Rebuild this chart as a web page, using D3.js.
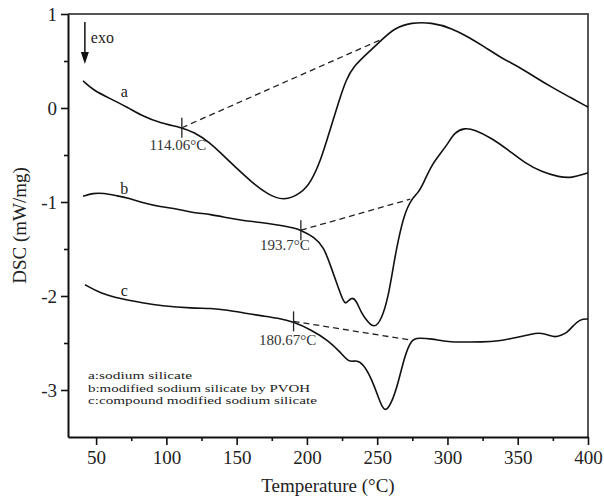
<!DOCTYPE html>
<html>
<head>
<meta charset="utf-8">
<script src="https://d3js.org/d3.v7.min.js"></script>
<style>
  body { margin: 0; background: #fff; }
  svg { font-family: "Liberation Serif", "Times New Roman", serif; }
</style>
</head>
<body>
<div id="chart"></div>
<script>
// DSC curves: [temperature (°C), DSC (mW/mg)]
const curveA = [
  [40.7, 0.29], [47.9, 0.19], [60, 0.10], [72.1, 0.01], [83.6, -0.09], [95.7, -0.16],
  [111.4, -0.21], [119.3, -0.255], [131.4, -0.37], [140, -0.50], [150, -0.64],
  [160, -0.78], [172, -0.92], [183.6, -0.99], [195.7, -0.91], [202.9, -0.79],
  [210, -0.55], [215.7, -0.27], [222.9, 0.08], [227.9, 0.30], [232.9, 0.44],
  [243.6, 0.59], [252.9, 0.72], [262.1, 0.85], [274.3, 0.91], [288.6, 0.91],
  [302.9, 0.85], [315, 0.755], [326.4, 0.65], [338.6, 0.53], [350.7, 0.44],
  [362.1, 0.33], [374.3, 0.22], [386.4, 0.12], [400, 0.01]
];
const curveB = [
  [40.7, -0.94], [47.9, -0.905], [55, -0.905], [65, -0.935], [72.1, -0.955],
  [83.6, -1.01], [95.7, -1.05], [107.9, -1.075], [119.3, -1.115], [131.4, -1.13],
  [143.6, -1.17], [155, -1.20], [167.1, -1.215], [179.3, -1.245], [190.7, -1.275],
  [195.7, -1.30], [205, -1.37], [212.1, -1.48], [217.1, -1.69], [222.1, -1.90],
  [225.7, -2.05], [227.9, -2.09], [231.4, -2.01], [235, -2.04], [238.6, -2.18],
  [243.6, -2.28], [247.9, -2.34], [252.9, -2.26], [257.9, -2.01], [261.4, -1.69],
  [265, -1.40], [269.3, -1.13], [274.3, -0.97], [279.3, -0.90], [282.9, -0.80],
  [288.6, -0.61], [295.7, -0.47], [300.7, -0.37], [305, -0.26], [312.1, -0.21],
  [319.3, -0.23], [331.4, -0.32], [343.6, -0.45], [355, -0.585], [367.1, -0.68],
  [379.3, -0.735], [388.6, -0.745], [397.9, -0.70], [400, -0.69]
];
const curveC = [
  [42.1, -1.88], [52.9, -1.97], [67.1, -2.03], [83.6, -2.075], [95.7, -2.105],
  [119.3, -2.13], [131.4, -2.13], [143.6, -2.15], [155, -2.18], [167.1, -2.21],
  [179.3, -2.235], [190.7, -2.275], [202.9, -2.36], [215, -2.47], [224.3, -2.605],
  [230, -2.71], [235, -2.68], [240, -2.72], [245.7, -2.87], [250.7, -3.07],
  [255, -3.25], [260, -3.15], [265, -2.925], [269.3, -2.65], [274.3, -2.46],
  [279.3, -2.445], [288.6, -2.455], [300.7, -2.49], [312.1, -2.49], [324.3, -2.49],
  [336.4, -2.48], [347.9, -2.445], [360, -2.405], [365, -2.39], [372.1, -2.415],
  [376.4, -2.44], [381.4, -2.415], [385, -2.39], [388.6, -2.33], [394.3, -2.245],
  [400, -2.245]
];

// onset annotations: tick point, end of dashed tangent, label
const onsetLabels = ['114.06°C', '193.7°C', '180.67°C'];
const onsetPoints = [[111, -0.21], [195.7, -1.30], [190.5, -2.27]];
const tangentEnds = [[251.5, 0.72], [273.5, -0.97], [274.3, -2.47]];

const curveNames = ['a', 'b', 'c'];
const curveNameAt = [[70, 0.12], [70, -0.92], [70, -2.0]];
const legendLines = ['a:sodium silicate', 'b:modified sodium silicate by PVOH', 'c:compound modified sodium silicate'];

const xTicks = [50, 100, 150, 200, 250, 300, 350, 400];
const yTicks = [-3, -2, -1, 0, 1];

const W = 604, H = 500;
const margin = { top: 14, right: 16, bottom: 63, left: 68 };

const svg = d3.select('#chart').append('svg').attr('width', W).attr('height', H);

const x = d3.scaleLinear().domain([30, 400]).range([margin.left, W - margin.right]);
const y = d3.scaleLinear().domain([-3.5, 1]).range([H - margin.bottom, margin.top]);

// frame (top and right)
svg.append('path')
  .attr('d', `M${x(30)},${y(1)}H${x(400)}V${y(-3.5)}`)
  .attr('fill', 'none').attr('stroke', '#555').attr('stroke-width', 2);

// minor ticks
const xMinor = d3.range(75, 400, 50);
const yMinor = [-2.5, -1.5, -0.5, 0.5];
svg.append('g')
  .attr('transform', `translate(0,${y(-3.5)})`)
  .call(d3.axisBottom(x).tickValues(xMinor).tickSize(4).tickFormat(''))
  .call((g) => g.select('.domain').remove())
  .selectAll('line').attr('stroke-width', 1.6).attr('stroke', '#111');
svg.append('g')
  .attr('transform', `translate(${margin.left},0)`)
  .call(d3.axisLeft(y).tickValues(yMinor).tickSize(4).tickFormat(''))
  .call((g) => g.select('.domain').remove())
  .selectAll('line').attr('stroke-width', 1.6).attr('stroke', '#111');

// main axes
const xAxis = svg.append('g')
  .attr('transform', `translate(0,${y(-3.5)})`)
  .call(d3.axisBottom(x).tickValues(xTicks).tickSize(8).tickSizeOuter(0).tickPadding(6));
const yAxis = svg.append('g')
  .attr('transform', `translate(${margin.left},0)`)
  .call(d3.axisLeft(y).tickValues(yTicks).tickSize(7).tickSizeOuter(0).tickPadding(4)
    .tickFormat(d3.format('d')));

[xAxis, yAxis].forEach((g) => {
  g.select('.domain').attr('stroke', '#111').attr('stroke-width', 2);
  g.selectAll('.tick line').attr('stroke', '#111').attr('stroke-width', 1.6);
  g.selectAll('text')
    .attr('font-family', '"Liberation Serif", serif')
    .attr('font-size', 19).attr('fill', '#222');
});
yAxis.selectAll('text').text((d) => (d < 0 ? '-' + Math.abs(d) : d));

// axis titles
svg.append('text')
  .attr('x', (x(30) + x(400)) / 2).attr('y', 492)
  .attr('text-anchor', 'middle').attr('font-size', 19).attr('fill', '#222')
  .text('Temperature (°C)');
svg.append('text')
  .attr('transform', `translate(26,${(y(1) + y(-3.5)) / 2}) rotate(-90)`)
  .attr('text-anchor', 'middle').attr('font-size', 19).attr('fill', '#222')
  .text('DSC (mW/mg)');

// curves
const line = d3.line()
  .x((d) => x(d[0]))
  .y((d) => y(d[1]))
  .curve(d3.curveBasis);

svg.selectAll('path.curve')
  .data([curveA, curveB, curveC])
  .enter()
  .append('path')
  .attr('class', 'curve')
  .attr('d', line)
  .attr('fill', 'none')
  .attr('stroke', '#111')
  .attr('stroke-width', 1.6);

// dashed tangents + onset ticks + labels
const labelShift = [[-4, 22], [-16, 20], [-6, 24]];
onsetPoints.forEach((p, i) => {
  const e = tangentEnds[i];
  svg.append('line')
    .attr('x1', x(p[0])).attr('y1', y(p[1]))
    .attr('x2', x(e[0])).attr('y2', y(e[1]))
    .attr('stroke', '#222').attr('stroke-width', 1.3)
    .attr('stroke-dasharray', '6,4');
  svg.append('line')
    .attr('x1', x(p[0])).attr('x2', x(p[0]))
    .attr('y1', y(p[1]) - 10).attr('y2', y(p[1]) + 10)
    .attr('stroke', '#222').attr('stroke-width', 1.3);
  svg.append('text')
    .attr('x', x(p[0]) + labelShift[i][0])
    .attr('y', y(p[1]) + labelShift[i][1])
    .attr('text-anchor', 'middle')
    .attr('font-size', 15).attr('fill', '#333')
    .text(onsetLabels[i]);
});

// curve letters
svg.selectAll('text.name')
  .data(curveNames)
  .enter()
  .append('text')
  .attr('class', 'name')
  .attr('x', (d, i) => x(curveNameAt[i][0]))
  .attr('y', (d, i) => y(curveNameAt[i][1]))
  .attr('text-anchor', 'middle')
  .attr('font-size', 16).attr('fill', '#222')
  .text((d) => d);

// exo arrow
const arrowX = x(42);
svg.append('line')
  .attr('x1', arrowX).attr('x2', arrowX)
  .attr('y1', 22).attr('y2', 54)
  .attr('stroke', '#111').attr('stroke-width', 1.5);
svg.append('path')
  .attr('d', `M${arrowX - 4},52L${arrowX + 4},52L${arrowX},64Z`)
  .attr('fill', '#111');
svg.append('text')
  .attr('x', arrowX + 6).attr('y', 43)
  .attr('font-size', 16).attr('fill', '#222')
  .text('exo');

// legend text
const legendWidths = [104, 222, 229];
svg.selectAll('text.legend')
  .data(legendLines)
  .enter()
  .append('text')
  .attr('class', 'legend')
  .attr('x', 88)
  .attr('y', (d, i) => 379 + i * 12.6)
  .attr('font-size', 11)
  .attr('fill', '#222')
  .attr('textLength', (d, i) => legendWidths[i])
  .attr('lengthAdjust', 'spacingAndGlyphs')
  .text((d) => d);
</script>
</body>
</html>
